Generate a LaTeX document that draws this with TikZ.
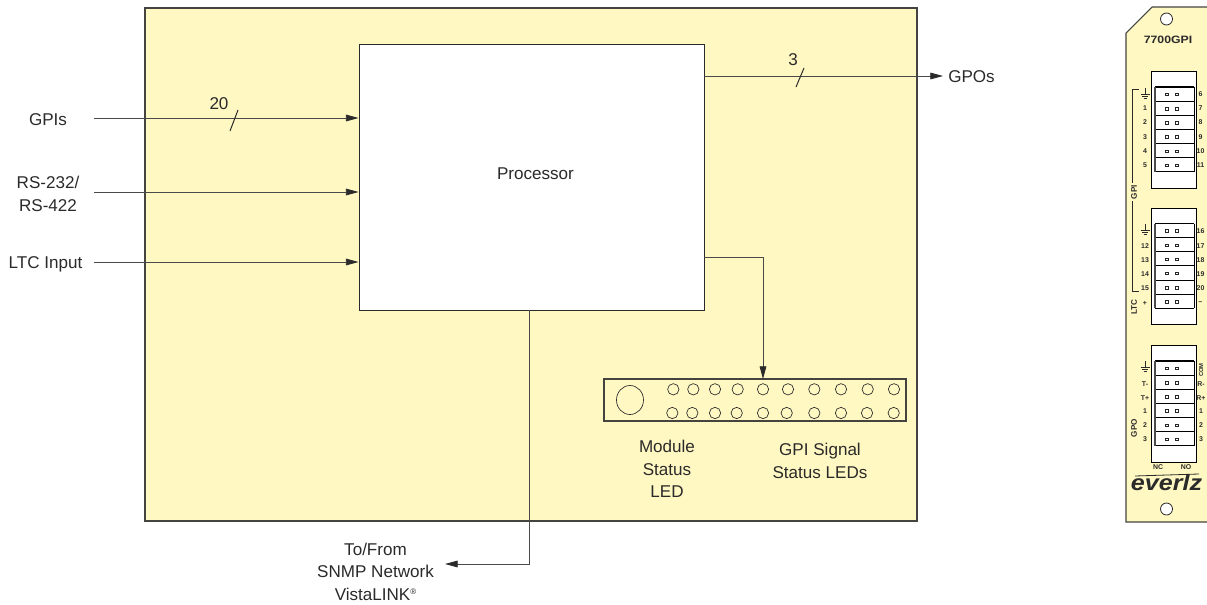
\documentclass[tikz,border=0pt]{standalone}
\usepackage{fontspec}
\setmainfont{Liberation Sans}
\usetikzlibrary{arrows.meta}
\definecolor{panelyellow}{HTML}{FFF8C2}
\definecolor{ink}{HTML}{2B2A2A}
\definecolor{edge}{HTML}{444340}
\tikzset{
  lbl/.style={inner sep=0pt,align=center,text=ink,font=\fontsize{12.8}{16.9}\selectfont},
  flow/.style={draw=ink!85,line width=0.6pt,-{Triangle[length=9.5pt,width=5pt,color=ink]}},
  tick/.style={draw=ink,line width=0.75pt},
  tiny/.style={inner sep=0pt,text=ink,font=\fontsize{5.2}{6}\selectfont\bfseries},
  vlab/.style={inner sep=0pt,text=ink,rotate=90,font=\fontsize{6.1}{7}\selectfont\bfseries},
  led/.style={draw=ink,line width=0.5pt,circle,minimum size=8.5pt,inner sep=0pt},
  row/.style={draw=black,fill=white,line width=0.8pt},
  hole/.style={draw=black!85,fill=white,line width=0.35pt},
  gnd/.style={draw=ink,line width=0.45pt}
}
\newcommand{\rowsat}[1]{%
  \draw[fill=white,draw=black,line width=0.7pt] (1151,#1-15.5) rectangle (1196,#1+101);
  \foreach \i in {0,...,5}{
    \draw[row] (1155,#1+\i*14.15) -- (1194,#1+\i*14.15);
    \draw[hole] (1165.5,#1+\i*14.15+6.2) rectangle (1168,#1+\i*14.15+8.7);
    \draw[hole] (1175.5,#1+\i*14.15+6.2) rectangle (1178,#1+\i*14.15+8.7);
  }
  \draw[row] (1155,#1+84.9) -- (1194,#1+84.9);
  \draw[black,line width=0.35pt] (1194,#1) -- (1194,#1+84.9);
  \fill[black!70] (1153.5,#1) rectangle (1155.5,#1+84.9);
}
\newcommand{\gndsym}[2]{%
  \draw[gnd] (#1,#2-6) -- (#1,#2);
  \draw[gnd] (#1-4.5,#2) -- (#1+4.5,#2);
  \draw[gnd] (#1-3,#2+2) -- (#1+3,#2+2);
  \draw[gnd] (#1-1.5,#2+4) -- (#1+1.5,#2+4);
}
\begin{document}
\begin{tikzpicture}[x=0.75pt,y=-0.75pt]
\useasboundingbox (0,0) rectangle (1207,604);
% main board
\draw[fill=panelyellow,draw=edge,line width=0.8pt] (145,8) rectangle (917,521);
\node[draw=ink,fill=white,line width=0.6pt,minimum width=258.75pt,minimum height=199.5pt,inner sep=0pt] (proc) at (531.5,177) {};
\node[lbl] (proctext) at (535.5,173.5) {Processor};
% led strip
\node[draw=edge,line width=0.8pt,minimum width=226.5pt,minimum height=31.5pt,inner sep=0pt,fill=panelyellow] (strip) at (755,400) {};
\draw[ink,line width=0.5pt] (630,400) ellipse (13.5 and 14.5);
\foreach \x/\xb in {673.3/672.3,693.3/692.3,715/715,737.7/736.7,763/763,788/786.7,814.3/814.3,841/841,867.7/867,894/893.7}{
  \node[led] at (\x,389.3) {};
  \node[led] at (\xb,413) {};
}
% labels
\node[lbl] (gpis) at (48,119.5) {GPIs};
\node[lbl] (rs) at (48,194) {RS-232/\\RS-422};
\node[lbl] (ltc) at (45.5,264) {LTC Input};
\node[lbl,anchor=west] (gpos) at (948,77) {GPOs};
\node[lbl] (n20) at (219,103.5) {20};
\node[lbl] (n3) at (793,59.5) {3};
\node[lbl] (modled) at (667,469) {Module\\Status\\LED};
\node[lbl] (gpisig) at (820,461) {GPI Signal\\Status LEDs};
\node[lbl] (snmp) at (375.5,571.5) {To/From\\SNMP Network\\VistaLINK\raisebox{0.6ex}{\fontsize{6}{6}\selectfont®}};
% connector end points
\coordinate (gpisend) at (94,118);
\coordinate (rsend) at (94,192);
\coordinate (ltcend) at (94,262);
\coordinate (gposin) at (943,76);
\coordinate (procout) at (704,76);
\coordinate (procled) at (704,257);
\coordinate (ledtop) at (763,379);
\coordinate (procnet) at (529,310);
\coordinate (netend) at (445,564);
\draw[flow] (gpisend) -- (gpisend -| proc.west);
\draw[flow] (rsend) -- (rsend -| proc.west);
\draw[flow] (ltcend) -- (ltcend -| proc.west);
\draw[flow] (procout) -- (gposin);
\draw[flow] (procled) -| (ledtop);
\draw[flow] (procnet) |- (netend);
\draw[tick] (230,131) -- (238,110);
\draw[tick] (796,87) -- (804,68);
% front plate
\fill[panelyellow] (1152,7) -- (1207,7) -- (1207,522) -- (1126,522) -- (1126,33) -- cycle;
\draw[edge,line width=0.8pt] (1207,7) -- (1152,7) -- (1126,33) -- (1126,522) -- (1207,522);
\draw[hole,line width=0.6pt] (1166.5,19) circle (6);
\draw[hole,line width=0.6pt] (1166.5,509) circle (6);
\node[inner sep=0pt,text=ink,font=\fontsize{8}{9}\selectfont\bfseries] (model) at (1168,39.5) {\scalebox{1.15}[1]{7700GPI}};
\rowsat{87}
\rowsat{223.5}
\rowsat{361}
\foreach \t/\y in {1/108,2/122.5,3/137,4/151,5/165}{\node[tiny] at (1145,\y) {\t};}
\foreach \t/\y in {6/94.5,7/108,8/122.5,9/137,10/151,11/165}{\node[tiny] at (1200.5,\y) {\t};}
\foreach \t/\y in {12/246.5,13/260.5,14/274.5,15/288.5,+/303}{\node[tiny] at (1145,\y) {\t};}
\foreach \t/\y in {16/231.5,17/246.5,18/260.5,19/274.5,20/288.5,−/303}{\node[tiny] at (1200.5,\y) {\t};}
\foreach \t/\y in {T-/384,T+/398,1/411,2/425,3/439}{\node[tiny] at (1145,\y) {\t};}
\foreach \t/\y in {R-/384,R+/398,1/411,2/425,3/439}{\node[tiny] at (1201,\y) {\t};}
\node[tiny,rotate=90,font=\fontsize{4.4}{5}\selectfont\bfseries] at (1201,370) {COM};
\gndsym{1145}{94}
\gndsym{1145}{230}
\gndsym{1145}{367}
\node[tiny] at (1158,467.5) {NC};
\node[tiny] at (1186,467.5) {NO};
\node[vlab] (gpil) at (1134,192) {GPI};
\node[vlab] (ltcl) at (1134,307) {LTC};
\node[vlab] (gpol) at (1134,428) {GPO};
\coordinate (brtop) at (1139,89);
\coordinate (brupper) at (1132,183);
\coordinate (brlower) at (1132,201);
\coordinate (brbot) at (1139,291);
\draw[ink,line width=0.45pt] (brupper) |- (brtop);
\draw[ink,line width=0.45pt] (brlower) |- (brbot);
\draw[ink,line width=0.6pt] (1135,476) -- (1199,474);
\node[inner sep=0pt,text=ink,font=\fontsize{16.5}{18}\selectfont\bfseries\itshape] (logo) at (1166.5,483) {\scalebox{1.14}[1]{everlz}};
\end{tikzpicture}
\end{document}
